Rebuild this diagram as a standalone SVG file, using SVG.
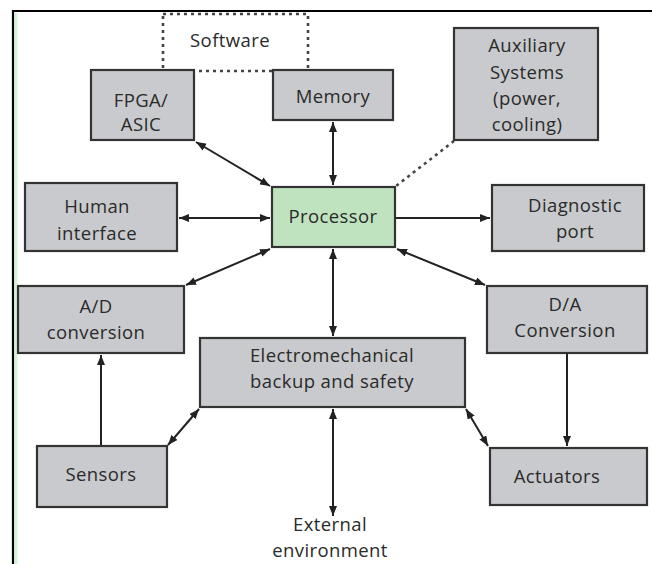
<svg xmlns="http://www.w3.org/2000/svg" width="652" height="564" viewBox="0 0 652 564">
<style>
.box{fill:#c9cacd;stroke:#333;stroke-width:2.2}
.proc{fill:#bfe3bf;stroke:#333;stroke-width:2.2}
text{font-family:"Open Sans","Liberation Sans",sans-serif;font-size:18.5px;fill:#2a2a2a;text-anchor:middle;letter-spacing:0.4px}
.ln{stroke:#222;stroke-width:2;fill:none}
.dot{stroke:#444;stroke-width:2.6;fill:none;stroke-dasharray:3,4}
</style>
<defs>
<marker id="ah" viewBox="0 0 10 8" refX="10" refY="4" markerWidth="10" markerHeight="8" markerUnits="userSpaceOnUse" orient="auto-start-reverse">
<path d="M0,0 L10,4 L0,8 z" fill="#222"/>
</marker>
</defs>
<rect width="652" height="564" fill="#fff"/>
<line x1="16" y1="13" x2="16" y2="564" stroke="#d4f5d4" stroke-width="3"/>
<line x1="12" y1="11" x2="652" y2="11" stroke="#000" stroke-width="2.2"/>
<line x1="13" y1="10" x2="13" y2="564" stroke="#000" stroke-width="2.2"/>

<g id="software">
<rect class="dot" x="163" y="14" width="145" height="57"/>
<text x="230" y="47">Software</text>
</g>

<g id="connectors">
<line class="ln" x1="196" y1="142" x2="270" y2="186" marker-start="url(#ah)" marker-end="url(#ah)"/>
<line class="ln" x1="333" y1="122" x2="333" y2="185" marker-start="url(#ah)" marker-end="url(#ah)"/>
<line class="ln" x1="179" y1="218" x2="270" y2="218" marker-start="url(#ah)" marker-end="url(#ah)"/>
<line class="ln" x1="186" y1="285" x2="270" y2="249" marker-start="url(#ah)" marker-end="url(#ah)"/>
<line class="ln" x1="396" y1="218" x2="490" y2="218" marker-end="url(#ah)"/>
<line class="ln" x1="397" y1="249" x2="485" y2="285" marker-start="url(#ah)" marker-end="url(#ah)"/>
<line class="ln" x1="333" y1="249" x2="333" y2="336" marker-start="url(#ah)" marker-end="url(#ah)"/>
<line class="ln" x1="101" y1="446" x2="101" y2="355" marker-end="url(#ah)"/>
<line class="ln" x1="168" y1="445" x2="199" y2="409" marker-start="url(#ah)" marker-end="url(#ah)"/>
<line class="ln" x1="567" y1="354" x2="567" y2="446" marker-end="url(#ah)"/>
<line class="ln" x1="466" y1="409" x2="488" y2="446" marker-start="url(#ah)" marker-end="url(#ah)"/>
<line class="ln" x1="333" y1="409" x2="333" y2="516" marker-start="url(#ah)" marker-end="url(#ah)"/>
<line class="dot" x1="454" y1="141" x2="396" y2="186"/>
</g>

<g id="fpga">
<rect class="box" x="91" y="70" width="103" height="70"/>
<text x="141" y="107">FPGA/</text>
<text x="141" y="131">ASIC</text>
</g>
<g id="memory">
<rect class="box" x="273" y="70" width="120" height="50"/>
<text x="333" y="103">Memory</text>
</g>
<g id="auxiliary">
<rect class="box" x="454" y="28" width="144" height="112"/>
<text x="527" y="52">Auxiliary</text>
<text x="527" y="79">Systems</text>
<text x="527" y="105">(power,</text>
<text x="527" y="131">cooling)</text>
</g>
<g id="processor">
<rect class="proc" x="272" y="187" width="123" height="60"/>
<text x="333" y="223">Processor</text>
</g>
<g id="human">
<rect class="box" x="25" y="183" width="152" height="68"/>
<text x="97" y="213">Human</text>
<text x="97" y="240">interface</text>
</g>
<g id="diagnostic">
<rect class="box" x="492" y="185" width="152" height="66"/>
<text x="575" y="212">Diagnostic</text>
<text x="575" y="238">port</text>
</g>
<g id="ad">
<rect class="box" x="18" y="286" width="166" height="67"/>
<text x="96" y="313">A/D</text>
<text x="96" y="339">conversion</text>
</g>
<g id="da">
<rect class="box" x="487" y="286" width="160" height="67"/>
<text x="565" y="311">D/A</text>
<text x="565" y="337">Conversion</text>
</g>
<g id="electromechanical">
<rect class="box" x="200" y="338" width="265" height="69"/>
<text x="332" y="362">Electromechanical</text>
<text x="332" y="388">backup and safety</text>
</g>
<g id="sensors">
<rect class="box" x="37" y="446" width="130" height="61"/>
<text x="101" y="481">Sensors</text>
</g>
<g id="actuators">
<rect class="box" x="490" y="448" width="157" height="57"/>
<text x="557" y="483">Actuators</text>
</g>
<g id="external">
<text x="330" y="531">External</text>
<text x="330" y="557">environment</text>
</g>
</svg>
